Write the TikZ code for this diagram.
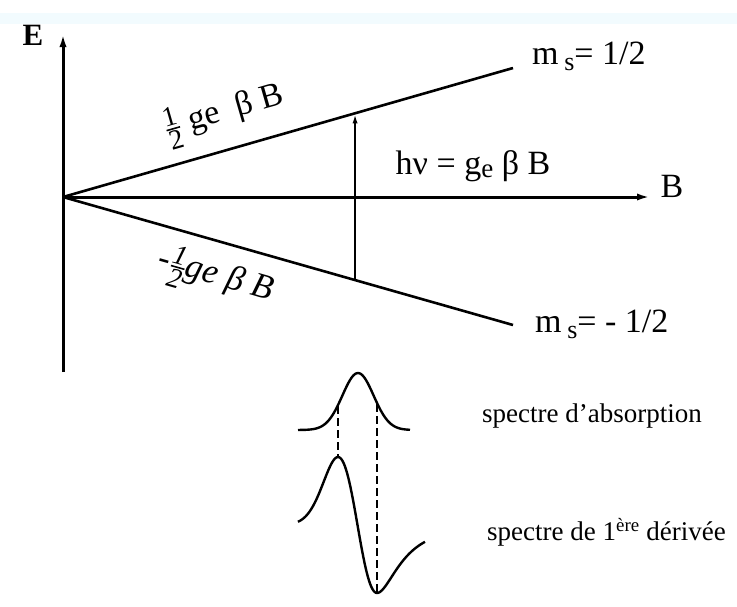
\documentclass[tikz,border=0pt]{standalone}
\usepackage{amsmath}
\usepackage{fontspec}
\setmainfont{Liberation Serif}
\usetikzlibrary{arrows.meta}
\newcommand{\halfnum}{$\genfrac{}{}{1.6pt}{}{\hbox{\fontsize{28}{28}\selectfont 1}}{\hbox{\fontsize{28}{28}\selectfont 2}}$}
\newcommand{\lowsub}[1]{\raisebox{-6pt}{\fontsize{26}{26}\selectfont #1}}
\tikzset{
  axis/.style={line width=3pt, -{Latex[length=14pt,width=7pt]}},
  level/.style={line width=2.6pt},
  lbl/.style={font=\fontsize{34}{38}\selectfont, inner sep=1pt},
  speclbl/.style={font=\fontsize{27}{30}\selectfont, anchor=west, inner sep=0pt},
  guide/.style={line width=2.4pt, dash pattern=on 8pt off 4pt},
  curve/.style={line width=2.4pt, line join=round},
}
\begin{document}
\begin{tikzpicture}[x=1pt,y=-1pt]
\useasboundingbox (0,0) rectangle (737,606);
\fill[cyan!5] (0,13) rectangle (737,24);
% axes
\coordinate (O) at (63,197);
\coordinate (Ebot) at (63,372);
\coordinate (Etop) at (63,33);
\coordinate (Bend) at (651,197);
\draw[axis] (Ebot) -- (Etop);
\draw[axis] (O) -- (Bend);
\node[lbl, font=\fontsize{31}{35}\selectfont\bfseries] (E) at (33,35) {E};
\node[lbl] (B) at (672,186) {B};
% levels
\coordinate (Up) at (513,68);
\coordinate (Lo) at (513,325);
\draw[level] (O) -- (Up)
  node[lbl, pos=0.38, sloped, above=12pt] (up lbl) {\halfnum\ ge~ β B}
  coordinate[pos=0.649] (u1);
\draw[level] (O) -- (Lo)
  node[lbl, pos=0.36, sloped, below=12pt, font=\fontsize{35}{39}\selectfont\itshape] (lo lbl) {-\halfnum ge β B}
  coordinate[pos=0.649] (l1);
\node[lbl, anchor=west] (ms up) at (531,56) {m\,\lowsub{s}= 1/2};
\node[lbl, anchor=west] (ms lo) at (534,324) {m\,\lowsub{s}= - 1/2};
% transition
\draw[line width=2.2pt, -{Latex[length=10pt,width=5pt]}] (l1) -- (u1);
\node[lbl] (hv) at (473,166) {hν = g\raisebox{-3pt}{\fontsize{27}{27}\selectfont e} β B};
% spectra
\draw[curve] plot[domain=298:410, samples=70] (\x, {430-57*exp(-((\x-358)/22)^2)});
\draw[curve] plot[domain=298:377, samples=70] (\x, {525+68*((\x-357.5)/19.5)*exp(0.5-((\x-357.5)/19.5)^2/2)})
  -- plot[domain=377:425, samples=40] (\x, {525+68*((\x-357.5)/33.8)/(1+((\x-357.5)/33.8)^2)^2/0.3248});
\coordinate (a1) at (338,406);
\coordinate (a2) at (377,404);
\coordinate (d1) at (338,458);
\coordinate (d2) at (377,592);
\draw[guide] (a1) -- (d1);
\draw[guide] (a2) -- (d2);
\node[speclbl] (abs) at (482,416) {spectre d'absorption};
\node[speclbl] (der) at (487,532) {spectre de 1\textsuperscript{ère} dérivée};
\end{tikzpicture}
\end{document}
